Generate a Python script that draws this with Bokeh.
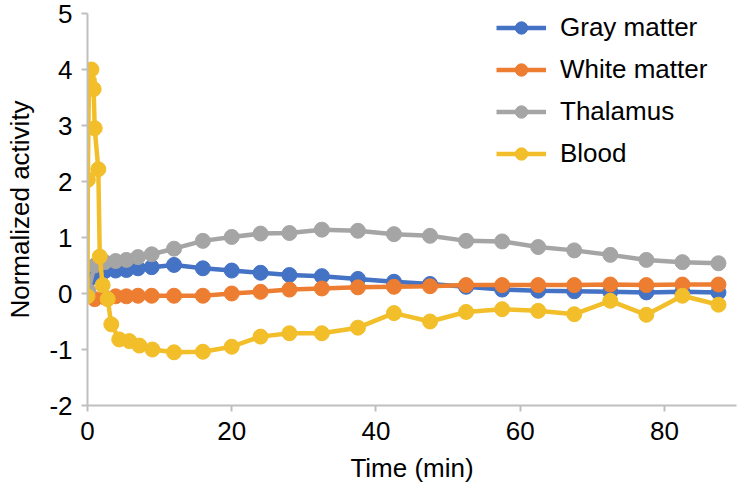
from bokeh.plotting import figure
from bokeh.models import Range1d, FixedTicker, Legend, LegendItem, ColumnDataSource
from bokeh.embed import file_html
from bokeh.resources import INLINE

# Frame mid-times (min) for the tissue curves
tissue_time = [0.1, 1.0, 2.4, 3.9, 5.4, 7.0, 8.9, 12, 16, 20, 24, 28, 32.5, 37.5,
               42.5, 47.5, 52.5, 57.5, 62.5, 67.5, 72.5, 77.5, 82.5, 87.5]
gray_matter = [0.0, 0.3, 0.4, 0.41, 0.42, 0.45, 0.47, 0.51, 0.45, 0.41, 0.37, 0.33,
               0.31, 0.26, 0.21, 0.17, 0.12, 0.07, 0.05, 0.04, 0.03, 0.02, 0.03, 0.02]
white_matter = [0.0, -0.1, -0.07, -0.05, -0.05, -0.04, -0.04, -0.04, -0.04, 0.0, 0.03,
                0.07, 0.09, 0.11, 0.12, 0.13, 0.15, 0.15, 0.15, 0.15, 0.16, 0.15, 0.16, 0.16]
thalamus = [0.05, 0.5, 0.56, 0.58, 0.6, 0.65, 0.7, 0.8, 0.94, 1.01, 1.07, 1.08, 1.14,
            1.12, 1.06, 1.03, 0.94, 0.93, 0.83, 0.77, 0.69, 0.6, 0.56, 0.54]

# Blood samples (denser in the first minutes)
blood_time = [0, 0.05, 0.2, 0.55, 0.85, 1.0, 1.5, 1.7, 2.1, 2.8, 3.3, 4.4, 5.8, 7.2,
              9.0, 12, 16, 20, 24, 28, 32.5, 37.5, 42.5, 47.5, 52.5, 57.5, 62.5, 67.5,
              72.5, 77.5, 82.5, 87.5]
blood = [-0.05, 2.03, 3.8, 4.0, 3.65, 2.95, 2.22, 0.66, 0.15, -0.1, -0.55, -0.82, -0.85,
         -0.93, -1.0, -1.05, -1.04, -0.95, -0.77, -0.71, -0.71, -0.61, -0.35, -0.5, -0.33,
         -0.28, -0.31, -0.37, -0.13, -0.38, -0.04, -0.2]

x_ticks = [0, 20, 40, 60, 80]
y_ticks = [-2, -1, 0, 1, 2, 3, 4, 5]

series = [
    ("Gray matter", tissue_time, gray_matter, "#4472C4"),
    ("White matter", tissue_time, white_matter, "#ED7D31"),
    ("Thalamus", tissue_time, thalamus, "#A5A5A5"),
    ("Blood", blood_time, blood, "#F2BE2A"),
]

FONT = "Liberation Sans"
FONT_SIZE = "26px"
AXIS_COLOR = "#BFBFBF"

p = figure(width=738, height=497, output_backend="svg", toolbar_location=None,
           x_range=Range1d(0, 90), y_range=Range1d(-2, 5),
           min_border_left=87, min_border_right=2, min_border_top=13,
           min_border_bottom=92)
p.outline_line_color = None
p.xgrid.visible = False
p.ygrid.visible = False
p.background_fill_color = "white"
p.border_fill_color = "white"

items = []
for name, t, v, color in series:
    src = ColumnDataSource(dict(t=t, v=v))
    ln = p.line("t", "v", source=src, line_color=color, line_width=4.5)
    sc = p.scatter("t", "v", source=src, size=15, fill_color=color, line_color=color)
    items.append(LegendItem(label=name, renderers=[ln, sc]))

for ax in (p.xaxis[0], p.yaxis[0]):
    ax.axis_line_color = AXIS_COLOR
    ax.axis_line_width = 2
    ax.major_tick_line_color = AXIS_COLOR
    ax.major_tick_line_width = 2
    ax.major_tick_in = 0
    ax.major_tick_out = 6
    ax.minor_tick_line_color = None
    ax.major_label_text_font = FONT
    ax.major_label_text_font_size = FONT_SIZE
    ax.major_label_text_color = "black"
    ax.axis_label_text_font = FONT
    ax.axis_label_text_font_size = FONT_SIZE
    ax.axis_label_text_font_style = "normal"
    ax.axis_label_text_color = "black"

p.xaxis.ticker = FixedTicker(ticks=x_ticks)
p.yaxis.ticker = FixedTicker(ticks=y_ticks)
# plain hyphen for negative tick labels
p.yaxis.major_label_overrides = {t: str(t) for t in y_ticks}
p.xaxis.axis_label = "Time (min)"
p.yaxis.axis_label = "Normalized activity"
p.xaxis.major_label_standoff = 10
p.yaxis.major_label_standoff = 9
p.xaxis.axis_label_standoff = 10
p.yaxis.axis_label_standoff = 11

legend = Legend(items=items, location=(409, 236), orientation="vertical",
                glyph_width=50, glyph_height=31, label_height=31, spacing=11,
                padding=0, margin=0, label_standoff=14,
                label_text_font=FONT, label_text_font_size=FONT_SIZE,
                label_text_color="black",
                background_fill_alpha=0, border_line_color=None)
p.add_layout(legend)

open("out.html", "w").write(file_html(p, INLINE))
